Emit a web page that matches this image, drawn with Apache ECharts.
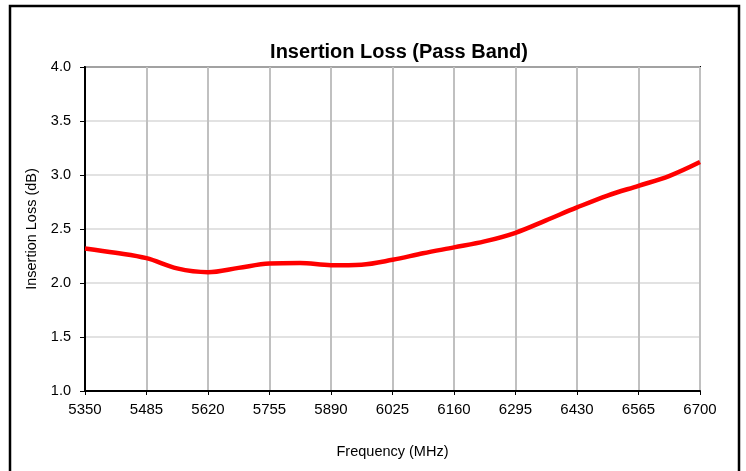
<!DOCTYPE html>
<html><head><meta charset="utf-8">
<script src="https://cdn.jsdelivr.net/npm/echarts@6/dist/echarts.min.js"></script>
<style>html,body{margin:0;padding:0;background:#fff}#c{width:746px;height:471px}</style>
</head><body><div id="c"></div>
<script>
var freqMHz = [5350,5417,5485,5552,5620,5687,5755,5822,5890,5957,6025,6092,6160,6227,6295,6362,6430,6497,6565,6632,6700];
var lossDb  = [2.32,2.28,2.23,2.135,2.10,2.14,2.18,2.185,2.165,2.17,2.215,2.275,2.33,2.385,2.465,2.58,2.70,2.81,2.90,2.99,3.12];
var xTicks = {min:5350, max:6700, step:135};
var yTicks = {min:1.0, max:4.0, step:0.5};

var chart = echarts.init(document.getElementById('c'));
var font = 'Liberation Sans, Arial, sans-serif';
chart.setOption({
  animation:false,
  title:{text:'Insertion Loss (Pass Band)', left:394, top:37, textAlign:'center',
    textStyle:{fontFamily:font, fontSize:20, fontWeight:'bold', color:'#000'}},
  graphic:[{type:'rect', shape:{x:10, y:6, width:729, height:480}, style:{fill:null, stroke:'#000', lineWidth:2.5}, z:100}],
  grid:{left:85, right:46, top:67, bottom:80, show:true, borderColor:'#000', borderWidth:2, backgroundColor:'transparent'},
  xAxis:{type:'value', min:xTicks.min, max:xTicks.max, interval:xTicks.step,
    name:'Frequency (MHz)', nameLocation:'middle', nameGap:53,
    nameTextStyle:{fontFamily:font, fontSize:14.5, color:'#000'},
    axisLine:{show:true, lineStyle:{color:'#000', width:2}},
    axisTick:{show:true, length:4, lineStyle:{color:'#000'}},
    axisLabel:{fontFamily:font, fontSize:15, color:'#000', margin:11,
      formatter:function(v){return String(v);}},
    splitLine:{show:true, lineStyle:{color:'#c0c0c0', width:2}}},
  yAxis:{type:'value', min:yTicks.min, max:yTicks.max, interval:yTicks.step,
    name:'Insertion Loss (dB)', nameLocation:'middle', nameGap:44, nameRotate:90,
    nameTextStyle:{fontFamily:font, fontSize:14.5, color:'#000'},
    axisLine:{show:true, lineStyle:{color:'#000', width:2}},
    axisTick:{show:true, length:5, lineStyle:{color:'#000'}},
    axisLabel:{fontFamily:font, fontSize:14.5, color:'#000', margin:14,
      formatter:function(v){return v.toFixed(1);}},
    splitLine:{show:true, lineStyle:{color:'#d9d9d9', width:1.5}}},
  series:[{type:'line', data:freqMHz.map(function(f,i){return [f,lossDb[i]];}),
    smooth:0.35, showSymbol:false, lineStyle:{color:'#ff0000', width:4.5}}]
});
</script></body></html>
